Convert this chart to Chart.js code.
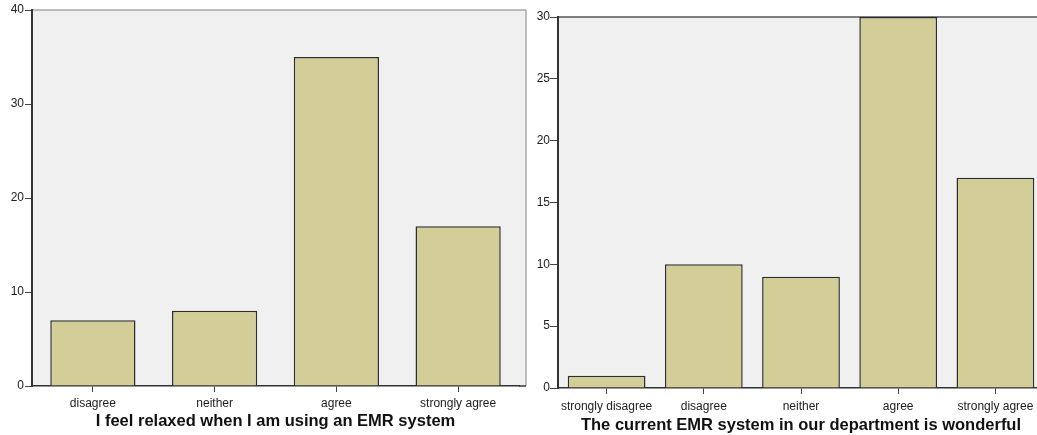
<!DOCTYPE html>
<html>
<head>
<meta charset="utf-8">
<script src="https://cdn.jsdelivr.net/npm/chart.js@4.4.1/dist/chart.umd.min.js"></script>
<style>
  html, body { margin: 0; padding: 0; background: #fff; overflow: hidden; width: 1037px; height: 435px; }
  canvas { position: absolute; top: 0; }
  #relaxedChart { left: 0; }
  #wonderfulChart { left: 530px; }
</style>
</head>
<body>
<canvas id="relaxedChart" width="530" height="435"></canvas>
<canvas id="wonderfulChart" width="530" height="435"></canvas>
<script>
// Datos
const relaxedLabels = ['disagree', 'neither', 'agree', 'strongly agree'];
const relaxedCounts = [7, 8, 35, 17];
const relaxedTicks = [0, 10, 20, 30, 40];
const relaxedTitle = 'I feel relaxed when I am using an EMR system';

const wonderfulLabels = ['strongly disagree', 'disagree', 'neither', 'agree', 'strongly agree'];
const wonderfulCounts = [1, 10, 9, 30, 17];
const wonderfulTicks = [0, 5, 10, 15, 20, 25, 30];
const wonderfulTitle = 'The current EMR system in our department is wonderful';

const FONT = "'Liberation Sans', Arial, sans-serif";
const BAR_FILL = '#d3ce98';
const BAR_EDGE = '#2e2e2e';

// Fondo gris del área de trazado y marco superior/derecho
const plotFrame = {
    id: 'plotFrame',
    beforeDraw(chart, args, opts) {
        const a = chart.chartArea;
        const ctx = chart.ctx;
        const r = a.right + (opts.extra || 0);
        ctx.save();
        ctx.fillStyle = '#f0f0f0';
        ctx.fillRect(a.left, a.top, r - a.left, a.bottom - a.top);
        ctx.strokeStyle = opts.topColor;
        ctx.lineWidth = 1.5;
        ctx.beginPath();
        ctx.moveTo(a.left, a.top);
        ctx.lineTo(r, a.top);
        ctx.stroke();
        if (opts.rightColor) {
            ctx.strokeStyle = opts.rightColor;
            ctx.beginPath();
            ctx.moveTo(r, a.top);
            ctx.lineTo(r, a.bottom);
            ctx.stroke();
        }
        ctx.restore();
    },
    afterDraw(chart, args, opts) {
        if (!opts.extra) return;
        const a = chart.chartArea;
        const ctx = chart.ctx;
        ctx.save();
        ctx.strokeStyle = '#333';
        ctx.lineWidth = 1.5;
        ctx.beginPath();
        ctx.moveTo(a.right, a.bottom);
        ctx.lineTo(a.right + opts.extra, a.bottom);
        ctx.stroke();
        ctx.restore();
    }
};

function makeChart(id, labels, counts, ticks, title, cfg) {
    return new Chart(document.getElementById(id), {
        type: 'bar',
        data: {
            labels: labels,
            datasets: [{
                data: counts,
                backgroundColor: BAR_FILL,
                borderColor: BAR_EDGE,
                borderWidth: 1.5,
                barPercentage: cfg.bar,
                categoryPercentage: 1
            }]
        },
        options: {
            responsive: false,
            animation: false,
            layout: { padding: { top: cfg.top, right: cfg.right, left: 0, bottom: 0 } },
            plugins: {
                legend: { display: false },
                tooltip: { enabled: false },
                plotFrame: { extra: cfg.extra, topColor: cfg.topColor, rightColor: cfg.rightColor }
            },
            scales: {
                x: {
                    grid: { drawOnChartArea: false, offset: false, tickLength: 6, color: '#444' },
                    border: { color: '#333', width: 1.5 },
                    ticks: { color: '#222', font: { family: FONT, size: 12 }, padding: cfg.xPad, maxRotation: 0, autoSkip: false },
                    title: {
                        display: true,
                        text: title,
                        color: '#111',
                        font: { family: FONT, size: 16.5, weight: 'bold' },
                        padding: { top: 0, bottom: cfg.titlePad }
                    },
                    afterFit(s) { s.height = cfg.xh; }
                },
                y: {
                    min: ticks[0],
                    max: ticks[ticks.length - 1],
                    ticks: { stepSize: ticks[1] - ticks[0], color: '#222', font: { family: FONT, size: 12 }, padding: cfg.yPad },
                    grid: { drawOnChartArea: false, tickLength: cfg.yTick, color: '#444' },
                    border: { color: '#333', width: 2 },
                    afterFit(s) { s.width = cfg.yw; }
                }
            }
        },
        plugins: [plotFrame]
    });
}

makeChart('relaxedChart', relaxedLabels, relaxedCounts, relaxedTicks, relaxedTitle, {
    bar: 0.7, top: 10, right: 11, xh: 49, yw: 32, yTick: 7, yPad: 1, xPad: 4, titlePad: 4,
    extra: 7, topColor: '#a8a8a8', rightColor: '#a8a8a8'
});

makeChart('wonderfulChart', wonderfulLabels, wonderfulCounts, wonderfulTicks, wonderfulTitle, {
    bar: 0.8, top: 17, right: 16, xh: 47, yw: 28, yTick: 8, yPad: 0, xPad: 5, titlePad: 0,
    extra: 0, topColor: '#555', rightColor: null
});
</script>
</body>
</html>
